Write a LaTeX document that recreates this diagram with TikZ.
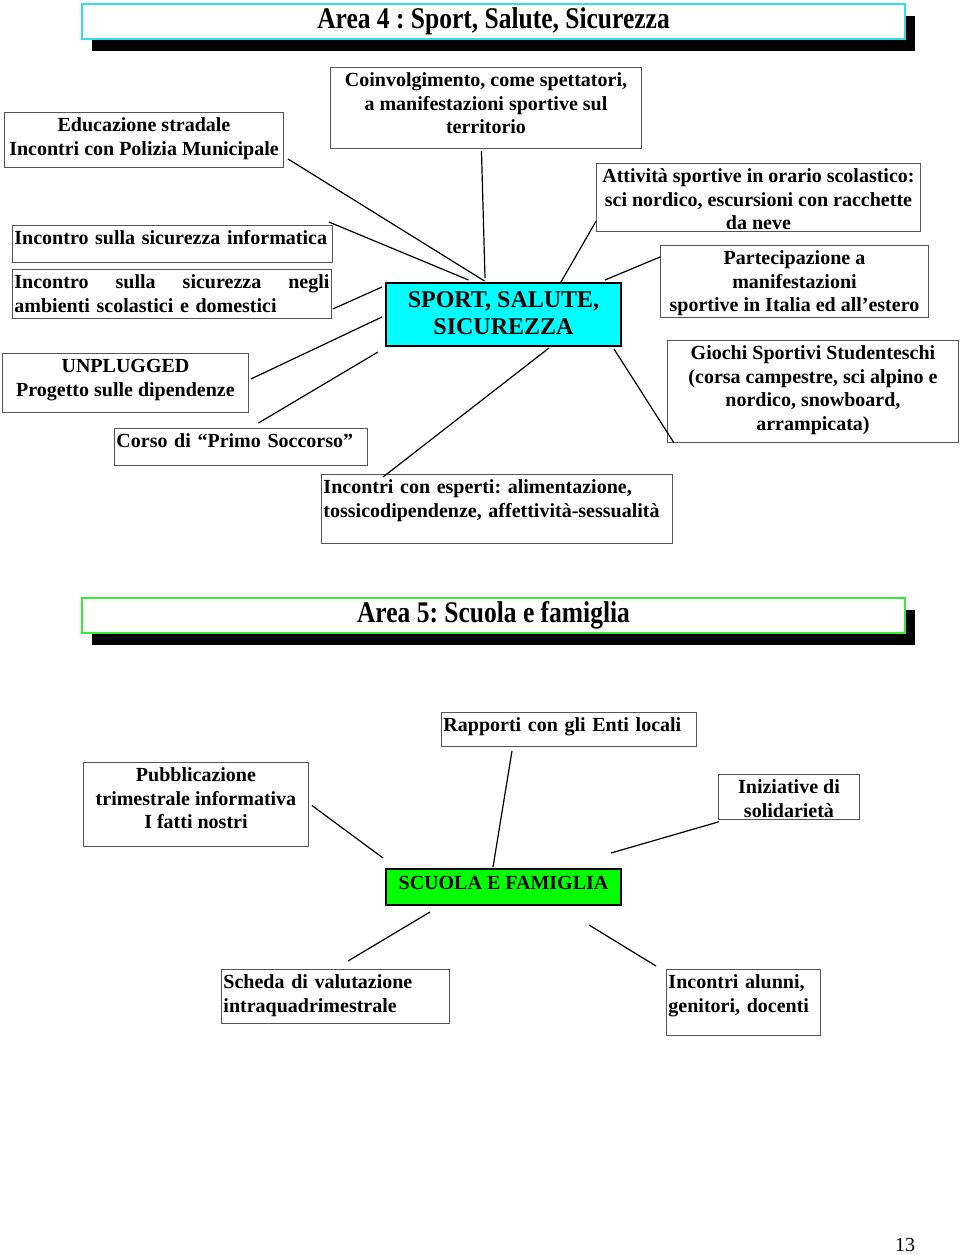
\documentclass[tikz,border=0pt]{standalone}
\usepackage{fontspec}
\setmainfont{Liberation Serif}
\newfontfamily\titlefont[FakeStretch=0.85]{Liberation Serif}
\usetikzlibrary{shadows}
\frenchspacing
\definecolor{hubcyan}{RGB}{0,255,255}
\definecolor{titlecyan}{RGB}{51,221,238}
\definecolor{hubgreen}{RGB}{0,255,0}
\definecolor{titlegreen}{RGB}{51,238,51}
\definecolor{boxline}{RGB}{85,85,85}
\begin{document}
\begin{tikzpicture}[x=0.75pt,y=-0.75pt,
    box/.style={draw=boxline,line width=0.7pt,fill=white,anchor=north west,inner sep=1.5pt,
      text height=13pt,font={\fontsize{15}{17.6}\selectfont\bfseries}},
    hub/.style={box,draw=black,line width=1.5pt,align=center},
    areabar/.style={anchor=north west,minimum width=617.25pt,minimum height=26.25pt,inner sep=0pt,
      fill=white,line width=1.5pt,general shadow={fill=black,shadow xshift=7.5pt,shadow yshift=-9pt},
      font={\titlefont\bfseries\fontsize{22.5}{26}\selectfont}},
    link/.style={line width=0.9pt}]
\useasboundingbox (0,0) rectangle (960,1255);
% Area 4 : mind map round the cyan hub
\node[areabar,draw=titlecyan] (area4) at (81,3) {Area 4 : Sport, Salute, Sicurezza};
\node[box,align=center,minimum width=209.25pt,text height=30.6pt,text depth=7.65pt] (stradale) at (4,112)
  {Educazione stradale\\Incontri con Polizia Municipale};
\node[box,align=center,minimum width=233.25pt,text height=48.2pt,text depth=9.55pt] (spettatori) at (330,67)
  {Coinvolgimento, come spettatori,\\a manifestazioni sportive sul\\territorio};
\node[box,align=center,minimum width=243pt,inner xsep=0.5pt,text height=48.2pt,text depth=0pt] (scolastico) at (596,163)
  {Attività sportive in orario scolastico:\\sci nordico, escursioni con racchette\\da neve};
\node[box,align=left,text width=237pt,text depth=11.75pt] (informatica) at (12,225)
  {\mbox{Incontro sulla sicurezza informatica}};
\node[box,align=left,text width=236.25pt,text depth=20.75pt] (domestici) at (12,269)
  {\makebox[236.25pt][l]{Incontro\hfill sulla\hfill sicurezza\hfill negli}\\\mbox{ambienti scolastici e domestici}};
\node[hub,fill=hubcyan,minimum width=176.25pt,text height=36.75pt,text depth=7.5pt,
  font={\fontsize{18}{20.25}\selectfont\bfseries}] (sport) at (385,282) {SPORT, SALUTE,\\SICUREZZA};
\node[box,align=center,minimum width=201pt,text height=48.2pt,text depth=2.8pt] (estero) at (660,245)
  {Partecipazione a\\manifestazioni\\sportive in Italia ed all’estero};
\node[box,align=center,minimum width=184.5pt,text height=30.6pt,text depth=10.65pt] (unplugged) at (2,353)
  {UNPLUGGED\\Progetto sulle dipendenze};
\node[box,align=center,minimum width=218.25pt,text height=65.8pt,text depth=7.7pt] (studenteschi) at (667,340)
  {Giochi Sportivi Studenteschi\\(corsa campestre, sci alpino e\\nordico, snowboard,\\arrampicata)};
\node[box,align=left,text width=186.75pt,text depth=11.75pt] (soccorso) at (114,428)
  {\mbox{Corso di “Primo Soccorso”}};
\node[box,align=left,text width=260.25pt,text depth=35.75pt] (esperti) at (321,474)
  {\mbox{Incontri con esperti: alimentazione,}\\\mbox{tossicodipendenze, affettività-sessualità}};
% spokes, loose ends as in the scan
\draw[link] ([shift={(4,-9)}]stradale.south east) -- ([shift={(-19,-1)}]sport.north);
\draw[link] ([shift={(-4,-3)}]informatica.north east) -- ([shift={(-35,-2)}]sport.north);
\draw[link] ([shift={(1,-10)}]domestici.south east) -- ([shift={(-3,5)}]sport.north west);
\draw[link] ([shift={(2,-4)}]unplugged.east) -- ([shift={(-3,2.5)}]sport.west);
\draw[link] ([shift={(17.5,-5)}]soccorso.north) -- ([shift={(-7,5)}]sport.south west);
\draw[link] ([shift={(-4.5,2)}]spettatori.south) -- ([shift={(-18.5,-4)}]sport.north);
\draw[link] ([shift={(0,-11)}]scolastico.south west) -- ([shift={(57.5,0)}]sport.north);
\draw[link] ([shift={(0,12)}]estero.north west) -- ([shift={(-17,-2)}]sport.north east);
\draw[link] ([shift={(7,0)}]studenteschi.south west) -- ([shift={(-8,2)}]sport.south east);
\draw[link] ([shift={(62,3)}]esperti.north west) -- ([shift={(45.5,1)}]sport.south);
% Area 5 : same layout, green hub
\node[areabar,draw=titlegreen] (area5) at (81,597) {Area 5: Scuola e famiglia};
\node[box,align=left,text width=188.25pt,text depth=9.5pt] (enti) at (441,712)
  {\mbox{Rapporti con gli Enti locali}};
\node[box,align=center,minimum width=168.75pt,text height=48.2pt,text depth=11.8pt] (pubblicazione) at (83,762)
  {Pubblicazione\\trimestrale informativa\\I fatti nostri};
\node[box,align=center,minimum width=105.75pt,text height=30.6pt,text depth=0pt] (solidarieta) at (718,774)
  {Iniziative di\\solidarietà};
\node[hub,fill=hubgreen,minimum width=176.25pt,text height=13.5pt,text depth=10.5pt] (famiglia) at (385,868)
  {SCUOLA E FAMIGLIA};
\node[box,align=left,text width=168pt,text depth=24.5pt] (scheda) at (221,969)
  {\mbox{Scheda di valutazione}\\\mbox{intraquadrimestrale}};
\node[box,align=left,text width=112.5pt,text depth=33.5pt] (genitori) at (666,969)
  {\mbox{Incontri alunni,}\\\mbox{genitori, docenti}};
\draw[link] ([shift={(71,4)}]enti.south west) -- ([shift={(-10.5,-1)}]famiglia.north);
\draw[link] ([shift={(3,1)}]pubblicazione.east) -- ([shift={(-2,-10)}]famiglia.north west);
\draw[link] ([shift={(1,2)}]solidarieta.south west) -- ([shift={(-11,-15)}]famiglia.north east);
\draw[link] ([shift={(45,6)}]famiglia.south west) -- ([shift={(127,-8)}]scheda.north west);
\draw[link] ([shift={(-33,19)}]famiglia.south east) -- ([shift={(-10,-3)}]genitori.north west);
% page number
\node[font=\fontsize{15}{18}\selectfont] (pagina) at (905,1245) {13};
\end{tikzpicture}
\end{document}
